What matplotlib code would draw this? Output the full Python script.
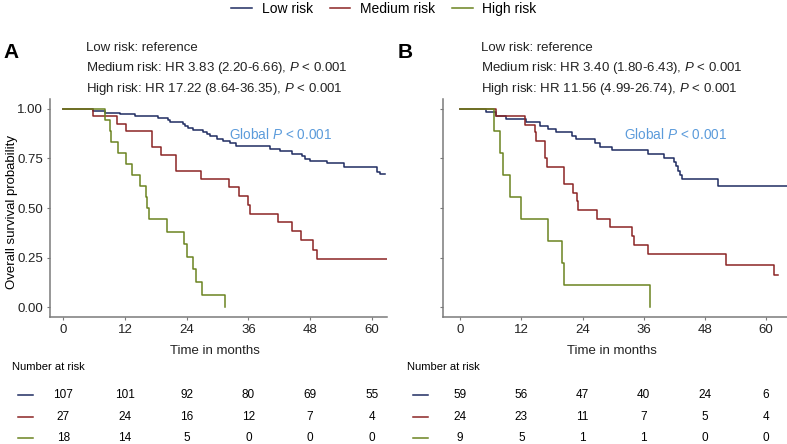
import matplotlib
matplotlib.use("Agg")
import matplotlib.pyplot as plt
from matplotlib import transforms
from matplotlib.lines import Line2D

plt.rcParams['font.family'] = ['Liberation Sans', 'DejaVu Sans']
plt.rcParams['mathtext.fontset'] = 'custom'
plt.rcParams['mathtext.rm'] = 'Liberation Sans'
plt.rcParams['mathtext.it'] = 'Liberation Sans:italic'

# Kaplan-Meier steps (time in months, survival after the step)
low_a_t = [0, 5.8, 8.1, 11.0, 13.9, 18.5, 20.4, 20.7, 23.3, 23.6, 24.3, 25.3, 27.2, 27.9, 28.5, 29.8,
           31.1, 32.4, 33.6, 40.2, 42.2, 44.4, 46.4, 47.0, 48.0, 51.2, 54.5, 61.0, 61.6, 62.6]
low_a_s = [1, 0.991, 0.981, 0.972, 0.963, 0.953, 0.944, 0.934, 0.925, 0.915, 0.903, 0.894, 0.884, 0.872,
           0.861, 0.849, 0.836, 0.826, 0.815, 0.800, 0.789, 0.772, 0.760, 0.748, 0.738, 0.727, 0.705,
           0.684, 0.671, 0.671]
med_a_t = [0, 5.8, 10.4, 12.2, 17.3, 18.9, 21.9, 26.8, 32.3, 34.2, 35.9, 36.3, 41.8, 44.5, 46.2, 48.5, 49.4, 62.9]
med_a_s = [1, 0.963, 0.926, 0.889, 0.808, 0.766, 0.687, 0.645, 0.604, 0.560, 0.516, 0.472, 0.429, 0.385,
           0.340, 0.290, 0.244, 0.244]
high_a_t = [0, 8.1, 9.0, 9.3, 10.7, 12.2, 13.3, 14.9, 16.1, 16.3, 16.7, 20.1, 23.5, 24.1, 25.3, 25.8, 26.9, 31.5]
high_a_s = [1, 0.944, 0.889, 0.833, 0.778, 0.722, 0.667, 0.611, 0.556, 0.5, 0.444, 0.381, 0.317, 0.254,
            0.190, 0.127, 0.063, 0.0]

low_b_t = [0, 5.1, 7.1, 9.0, 12.9, 15.7, 17.3, 18.8, 21.9, 22.7, 26.5, 27.5, 29.7, 36.8, 40.0, 41.9, 42.4,
           42.8, 43.1, 43.5, 50.5, 64.1]
low_b_s = [1, 0.983, 0.966, 0.949, 0.932, 0.915, 0.898, 0.881, 0.864, 0.847, 0.830, 0.810, 0.793, 0.773,
           0.751, 0.731, 0.710, 0.688, 0.667, 0.647, 0.613, 0.613]
med_b_t = [0, 7.1, 12.7, 14.6, 14.9, 16.7, 17.0, 20.4, 22.2, 22.9, 23.2, 26.8, 29.4, 33.7, 34.0, 36.9, 52.2,
           61.6, 62.4]
med_b_s = [1, 0.962, 0.919, 0.881, 0.836, 0.751, 0.709, 0.620, 0.578, 0.533, 0.491, 0.445, 0.402, 0.357,
           0.311, 0.267, 0.213, 0.160, 0.160]
high_b_t = [0, 6.7, 7.8, 8.5, 9.7, 12.0, 17.3, 19.9, 20.3, 37.3]
high_b_s = [1, 0.889, 0.778, 0.667, 0.556, 0.444, 0.333, 0.222, 0.111, 0.0]

groups = ['Low risk', 'Medium risk', 'High risk']
colors = ['#1f2c62', '#8b2525', '#6b8420']
risk_times = [0, 12, 24, 36, 48, 60]
risk_a = [[107, 101, 92, 80, 69, 55], [27, 24, 16, 12, 7, 4], [18, 14, 5, 0, 0, 0]]
risk_b = [[59, 56, 47, 40, 24, 6], [24, 23, 11, 7, 5, 4], [9, 5, 1, 1, 0, 0]]
hr_a = ['Low risk: reference',
        'Medium risk: HR 3.83 (2.20-6.66), $\\mathit{P}$ < 0.001',
        'High risk: HR 17.22 (8.64-36.35), $\\mathit{P}$ < 0.001']
hr_b = ['Low risk: reference',
        'Medium risk: HR 3.40 (1.80-6.43), $\\mathit{P}$ < 0.001',
        'High risk: HR 11.56 (4.99-26.74), $\\mathit{P}$ < 0.001']

W, H = 787, 444
fig = plt.figure(figsize=(W / 100, H / 100), dpi=100)


def fx(px):
    return px / W


def fy(py):
    return 1 - py / H


axA = fig.add_axes([fx(50), fy(317), fx(336.7), 218 / H])
axB = fig.add_axes([fx(443.3), fy(317), fx(343.7), 218 / H])

panels = [
    (axA, [(low_a_t, low_a_s), (med_a_t, med_a_s), (high_a_t, high_a_s)], (-2.6, 62.9), risk_a, hr_a, 'A', 0, True),
    (axB, [(low_b_t, low_b_s), (med_b_t, med_b_s), (high_b_t, high_b_s)], (-3.3, 64.1), risk_b, hr_b, 'B', 395, False),
]

for ax, curves, xl, risk, hr, letter, off, ylabels in panels:
    for (t, s), c in zip(curves, colors):
        ax.plot(t, s, drawstyle='steps-post', color=c, lw=1.1)
    ax.set_xlim(*xl)
    ax.set_ylim(-0.05, 1.05)
    ax.set_xticks(risk_times)
    ax.set_yticks([0, 0.25, 0.5, 0.75, 1.0])
    if ylabels:
        ax.set_yticklabels(['0.00', '0.25', '0.50', '0.75', '1.00'])
    else:
        ax.set_yticklabels([])
    for sp in ['top', 'right']:
        ax.spines[sp].set_visible(False)
    for sp in ['left', 'bottom']:
        ax.spines[sp].set_color('#7a7a7a')
        ax.spines[sp].set_linewidth(1.1)
    ax.tick_params(colors='#7a7a7a', labelcolor='#222222', labelsize=9.5, length=2.5, width=0.8, pad=2.5)
    ax.text(32.2, 0.872, 'Global $\\mathit{P}$ < 0.001', color='#5b9bdb', fontsize=9.8, va='center', ha='left')

    # hazard ratio annotation and panel letter
    fig.text(fx(off + 3), fy(53), letter, fontsize=15, fontweight='bold', va='center', ha='left')
    for i, line in enumerate(hr):
        fig.text(fx(off + 86), fy(48 + 20.5 * i), line, fontsize=9.5, va='center', ha='left', color='#222222')

    fig.text(fx(off + 12 if off else 12), fy(367), 'Number at risk', fontsize=8, va='center', ha='left')
    fig.text(fx((ax.get_position().x0 + ax.get_position().x1) / 2 * W - 3), fy(351), 'Time in months',
             fontsize=9.5, va='center', ha='center', color='#222222')

    # risk table
    tr = transforms.blended_transform_factory(ax.transData, fig.transFigure)
    rows_y = [395, 416.7, 438.3]
    for r, c, yy in zip(risk, colors, rows_y):
        fig.add_artist(Line2D([fx(off + 18), fx(off + 33)], [fy(yy), fy(yy)], color=c, lw=1.1))
        for tt, n in zip(risk_times, r):
            ax.text(tt, fy(yy), str(n), transform=tr, fontsize=8.5, ha='center', va='center', clip_on=False)

fig.text(fx(12), fy(212), 'Overall survival probability', rotation=90, fontsize=9.5, va='center', ha='center')

handles = [Line2D([], [], color=c, lw=1.1) for c in colors]
fig.legend(handles, groups, loc='center', bbox_to_anchor=(fx(384), fy(9)), ncol=3, frameon=False,
           fontsize=10, handlelength=1.5, handletextpad=0.7, columnspacing=1.2)

fig.savefig('out.png', dpi=100)
